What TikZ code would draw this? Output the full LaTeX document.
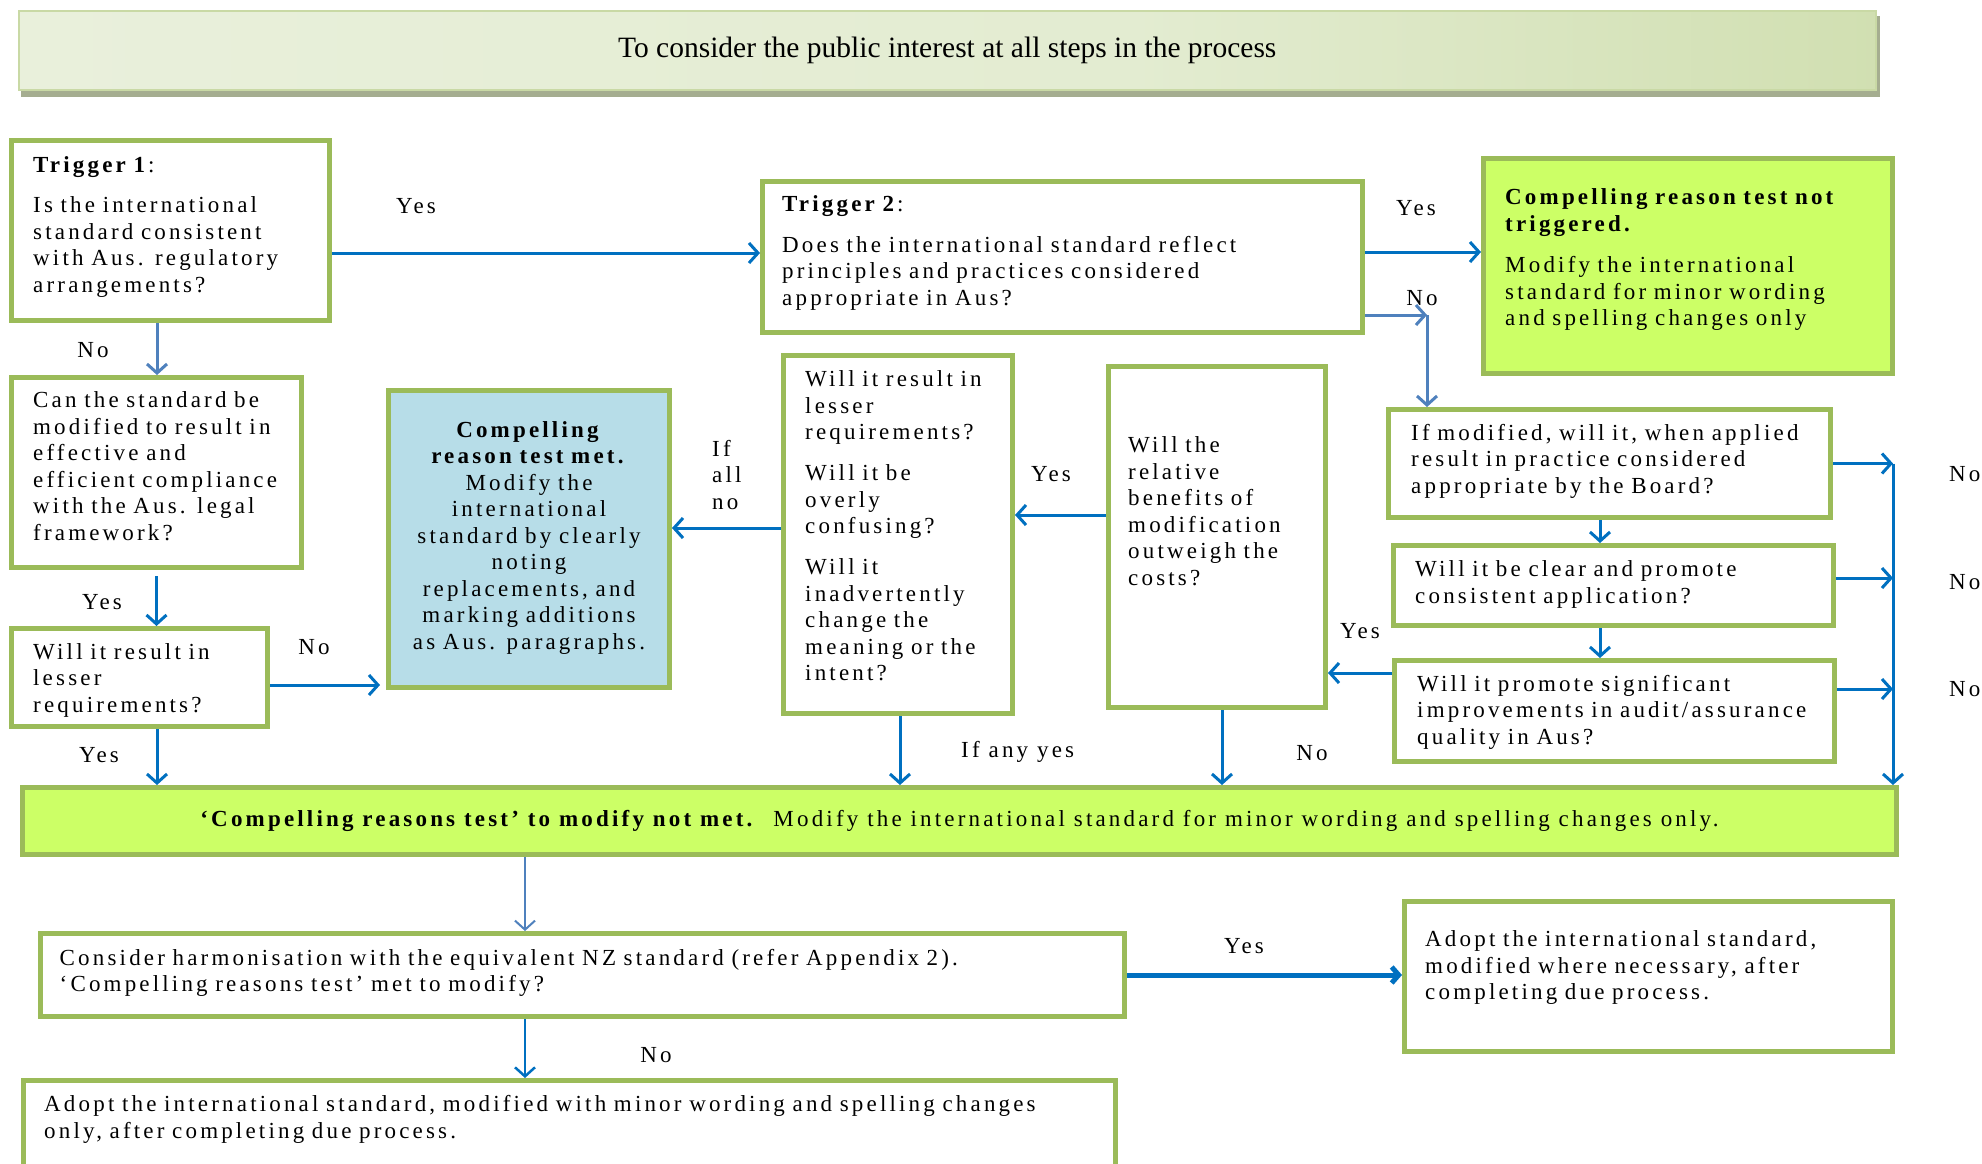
\documentclass[tikz,border=0pt]{standalone}
\usepackage{fontspec}
\setmainfont{Liberation Serif}
\newfontfamily\bxf[LetterSpace=13.8]{Liberation Serif}
\usetikzlibrary{arrows.meta,calc}
\definecolor{olv}{HTML}{9BBB59}
\definecolor{limefill}{HTML}{CCFF66}
\definecolor{lbluefill}{HTML}{B7DDE8}
\definecolor{ablue}{HTML}{0070C0}
\definecolor{sblue}{HTML}{4F81BD}
\definecolor{bshadow}{HTML}{A5AD90}
\definecolor{bedge}{HTML}{C9D9A5}
\definecolor{baa}{HTML}{DDE8C6}
\definecolor{bab}{HTML}{EBF1DF}
\definecolor{bac}{HTML}{E3ECD1}
\definecolor{bad}{HTML}{C8D9A2}
\definecolor{bae}{HTML}{D8E4BC}
\pgfdeclarehorizontalshading{bannershade}{100bp}{color(0bp)=(baa); color(15bp)=(bab); color(55bp)=(bac); color(85bp)=(bad); color(100bp)=(bae)}
\newcommand\mkbox[6]{\node[#6, minimum width={#4-#2-5}, minimum height={#5-#3-5}, anchor=north west] (#1) at (#2,#3) {};}
\tikzset{
  box/.style={draw=olv, line width=5pt, fill=white, inner sep=0pt},
  tx/.style={anchor=base west, inner sep=0pt, text width=1200pt, align=left, font=\bxf\fontsize{23}{26.5}\selectfont},
  lb/.style={anchor=base, inner sep=0pt, font=\bxf\fontsize{23}{26.5}\selectfont},
  arr/.style={draw=ablue, line width=3pt, -{Straight Barb[length=9pt,width=20pt]}},
  arrl/.style={arr, draw=sblue},
  arrthin/.style={arr, draw=sblue, line width=2pt},
  arrthick/.style={arr, line width=5pt, -{Straight Barb[length=7pt,width=16pt]}}
}
\begin{document}
\begin{tikzpicture}[x=1pt,y=-1pt]
\useasboundingbox (0,0) rectangle (1982,1163);
\clip (0,0) rectangle (1982,1163);
\fill[white] (0,0) rectangle (1982,1163);
% banner
\fill[bshadow] (21,16) rectangle (1880,97);
\node[draw=bedge, line width=1.5pt, shading=bannershade, inner sep=0pt, minimum width=1857, minimum height=79, anchor=north west, font=\fontsize{29.5}{32}\selectfont] (ban) at (18,10) {To consider the public interest at all steps in the process};
% boxes
\mkbox{t1}{9}{138}{332}{323}{box}
\mkbox{t2}{760}{179}{1365}{335}{box}
\mkbox{grn}{1481}{156}{1895}{376}{box, fill=limefill}
\mkbox{can}{9}{375}{304}{570}{box}
\mkbox{wl}{9}{626}{270}{729}{box}
\mkbox{blue}{386}{388}{672}{690}{box, fill=lbluefill}
\mkbox{mid}{781}{353}{1015}{716}{box}
\mkbox{rel}{1106}{364}{1328}{710}{box}
\mkbox{ifm}{1386}{407}{1833}{520}{box}
\mkbox{clr}{1391}{543}{1836}{628}{box}
\mkbox{prm}{1392}{658}{1837}{764}{box}
\mkbox{cons}{38}{931}{1127}{1019}{box}
\mkbox{adr}{1402}{899}{1895}{1054}{box}
\mkbox{adb}{21}{1078}{1118}{1190}{box}
\node[box, fill=limefill, minimum width=1874, minimum height=67, anchor=north west, font=\bxf\fontsize{23}{26.5}\selectfont] (bar) at (20,785) {\textbf{‘Compelling reasons test’ to modify not met.}\ \ Modify the international standard for minor wording and spelling changes only.};
% texts
\node[tx] (t1x) at (33,172.7) {\textbf{Trigger 1}:\\[13.5pt]Is the international\\standard consistent\\with Aus. regulatory\\arrangements?};
\node[tx] (t2x) at (782,211) {\textbf{Trigger 2}:\\[14.5pt]Does the international standard reflect\\principles and practices considered\\appropriate in Aus?};
\node[tx] (gx) at (1505,204.5) {\textbf{Compelling reason test not}\\\textbf{triggered.}\\[15pt]Modify the international\\standard for minor wording\\and spelling changes only};
\node[tx] (canx) at (33,407.7) {Can the standard be\\modified to result in\\effective and\\efficient compliance\\with the Aus. legal\\framework?};
\node[tx] (wlx) at (33,659) {Will it result in\\lesser\\requirements?};
\node[tx, text width=280pt, align=center, anchor=base] (bx) at (529,437) {\textbf{Compelling}\\\textbf{reason test met.}\\Modify the\\international\\standard by clearly\\noting\\replacements, and\\marking additions\\as Aus. paragraphs.};
\node[tx] (mx) at (805,386.8) {Will it result in\\lesser\\requirements?\\[14.5pt]Will it be\\overly\\confusing?\\[14.5pt]Will it\\inadvertently\\change the\\meaning or the\\intent?};
\node[tx] (rx) at (1128,452.9) {Will the\\relative\\benefits of\\modification\\outweigh the\\costs?};
\node[tx] (ifx) at (1411,440) {If modified, will it, when applied\\result in practice considered\\appropriate by the Board?};
\node[tx] (clx) at (1415,576.7) {Will it be clear and promote\\consistent application?};
\node[tx] (prx) at (1417,691) {Will it promote significant\\improvements in audit/assurance\\quality in Aus?};
\node[tx] (cnx) at (59.5,965) {Consider harmonisation with the equivalent NZ standard (refer Appendix 2).\\‘Compelling reasons test’ met to modify?};
\node[tx] (adrx) at (1425,946.7) {Adopt the international standard,\\modified where necessary, after\\completing due process.};
\node[tx] (adbx) at (44,1111.7) {Adopt the international standard, modified with minor wording and spelling changes\\only, after completing due process.};
% labels
\node[lb] (y1) at (416,213) {Yes};
\node[lb] (n1) at (93,357) {No};
\node[lb] (y2) at (102,609) {Yes};
\node[lb] (n2) at (314,654) {No};
\node[lb] (y3) at (99,762) {Yes};
\node[tx] (ifall) at (712,456) {If\\all\\no};
\node[lb] (y4) at (1051,481) {Yes};
\node[lb, anchor=base west] (ify) at (961,757) {If any yes};
\node[lb] (n3) at (1312,760) {No};
\node[lb] (y5) at (1416,215) {Yes};
\node[lb] (n4) at (1422,305) {No};
\node[lb] (y6) at (1360,638) {Yes};
\node[lb, anchor=base west] (n5) at (1949,481) {No};
\node[lb, anchor=base west] (n6) at (1949,589) {No};
\node[lb, anchor=base west] (n7) at (1949,696) {No};
\node[lb] (y7) at (1244,953) {Yes};
\node[lb] (n8) at (656,1062) {No};
% connectors
\draw[arr] ([yshift=-22.5pt]t1.east) -- ([yshift=-22.5pt]t1.east -| t2.west);
\draw[arrl] ([xshift=-13.5pt]t1.south) -- ([xshift=-13.5pt]t1.south |- can.north);
\draw[arr] ([yshift=-6pt]can.south) -- (can.south |- wl.north);
\draw[arr] ([yshift=-7.5pt]wl.east) -- ([yshift=-7.5pt,xshift=-6pt]wl.east -| blue.west);
\draw[arr] ([xshift=17.5pt]wl.south) -- ([xshift=17.5pt]wl.south |- bar.north);
\draw[arr] ([yshift=5pt]t2.east) -- ([yshift=5pt]t2.east -| grn.west);
\coordinate (nc) at (1427,315);
\draw[arrl] ([yshift=-58pt]t2.east) -- (nc);
\draw[arrl] (nc) -- (nc |- ifm.north);
\draw[arr] ([xshift=-9.5pt]ifm.south) -- ([xshift=-9.5pt]ifm.south |- clr.north);
\draw[arr] ([xshift=-13.5pt]clr.south) -- ([xshift=-13.5pt]clr.south |- prm.north);
\draw[arr] ([yshift=38pt]prm.west) -- ([yshift=38pt]prm.west -| rel.east);
\draw[arr] ([yshift=22pt]rel.west) -- ([yshift=22pt]rel.west -| mid.east);
\draw[arr] ([xshift=5pt]rel.south) -- ([xshift=5pt]rel.south |- bar.north);
\draw[arr] ([yshift=6.5pt]mid.west) -- ([yshift=6.5pt]mid.west -| blue.east);
\draw[arr] ([xshift=2pt]mid.south) -- ([xshift=2pt]mid.south |- bar.north);
\coordinate (r1) at (1893,463.5);
\coordinate (r2) at (1893,578);
\coordinate (r3) at (1893,689);
\draw[arr] (ifm.east) -- (r1);
\draw[arr] ([yshift=7.5pt]clr.east) -- (r2);
\draw[arr] ([yshift=22pt]prm.east) -- (r3);
\draw[arr] (r1) -- (r1 |- bar.north);
\draw[arrthin] ([xshift=-57.5pt]cons.north |- bar.south) -- ([xshift=-57.5pt]cons.north);
\draw[arr, line width=2.5pt] ([xshift=-57.5pt]cons.south) -- ([xshift=-57.5pt]cons.south |- adb.north);
\draw[arrthick] (cons.east) -- (cons.east -| adr.west);
\end{tikzpicture}
\end{document}
